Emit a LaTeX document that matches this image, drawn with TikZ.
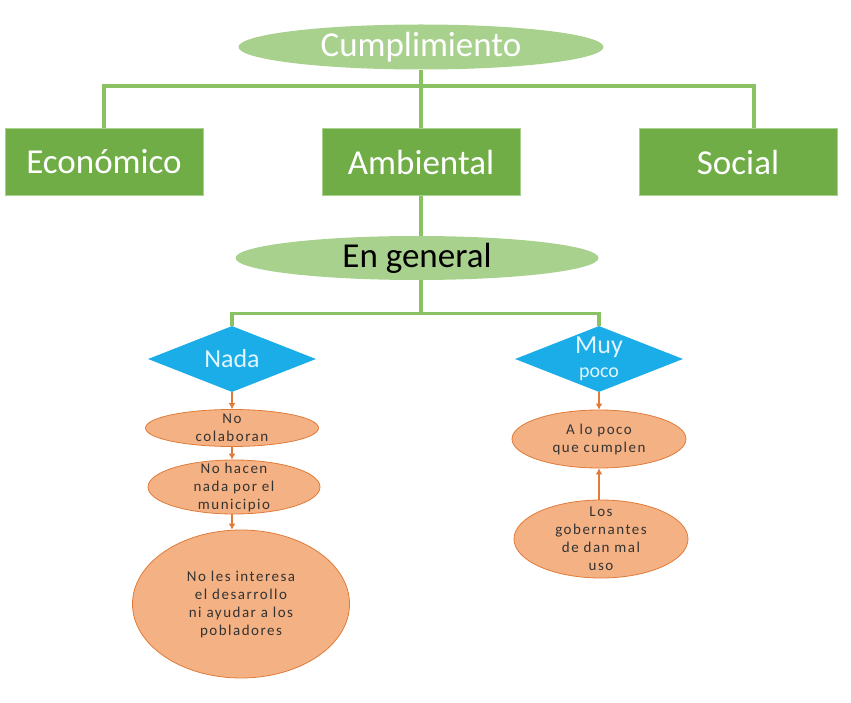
\documentclass[tikz,border=0pt]{standalone}
\usepackage{fontspec}
\setmainfont{Carlito}
\newfontfamily\reasonfont[LetterSpace=10]{Carlito}
\usepackage{xcolor}
\usetikzlibrary{shapes.geometric,arrows.meta}
\definecolor{vgreen}{HTML}{70AD47}
\definecolor{vlgreen}{HTML}{A9D18E}
\definecolor{vline}{HTML}{8AC162}
\definecolor{vblue}{HTML}{1AADE8}
\definecolor{vorange}{HTML}{F4B183}
\definecolor{vdorange}{HTML}{E07B39}
\definecolor{vtext}{HTML}{333333}

\tikzset{
	bigoval/.style = {ellipse, fill = vlgreen, inner sep = 0pt, font = \fontsize{35}{40}\selectfont},
	catbox/.style = {rectangle, fill = vgreen, draw = vlgreen, line width = 1pt, minimum width = 198pt, minimum height = 67pt, text = white, font = \fontsize{35}{40}\selectfont},
	choice/.style = {diamond, fill = vblue, aspect = 2.55, inner sep = 0pt, minimum width = 168pt, minimum height = 66pt, text = white!88!vblue, align = center, font = \fontsize{26}{28}\selectfont},
	reason/.style = {ellipse, fill = vorange, draw = vdorange, line width = .8pt, inner sep = 0pt, align = center, text = vtext, font = \reasonfont\fontsize{15}{18}\selectfont},
	tree/.style = {draw = vline, line width = 3.2pt},
	chain/.style = {draw = vdorange, line width = 2.4pt, -{Latex[length = 6pt, width = 7pt]}}
}

\begin{document}
\begin{tikzpicture}[x = 1pt, y = -1pt]
		\useasboundingbox (0,0) rectangle (851,703);
		% top level
		\node[bigoval, minimum width = 365pt, minimum height = 45pt, text = white] (cum) at (421,47) {Cumplimiento};
		\node[catbox] (eco) at (104,162) {Económico};
		\node[catbox] (amb) at (421,162) {Ambiental};
		\node[catbox] (soc) at (738,162) {Social};
		\draw[tree] (cum.south) -- (amb.north);
		\draw[tree] (eco.north) -- ++(0,-42) -| ([xshift = 16pt]soc.north);
		% en general
		\node[bigoval, minimum width = 363pt, minimum height = 44pt, text = black] (gen) at (417,258) {En general};
		\draw[tree] (amb.south) -- (amb.south |- gen.north);
		\node[choice] (nada) at (232,359) {Nada};
		\node[choice] (muy) at (599,359) {Muy\\[-4pt]{\fontsize{20}{22}\selectfont poco}};
		\draw[tree] (amb.south |- gen.south) -- ++(0,33) coordinate (split);
		\draw[tree] (nada.north) |- (split) -| (muy.north);
		% nada
		\node[reason, inner ysep = -10pt, minimum width = 173pt, minimum height = 37pt] (col) at (232,428) {No\\colaboran};
		\node[reason, inner ysep = -8pt, minimum width = 172pt, minimum height = 54pt] (hac) at (234,487) {No hacen\\nada por el\\municipio};
		\node[reason, minimum width = 217pt, minimum height = 148pt] (int) at (241,604) {No les interesa\\el desarrollo\\ni ayudar a los\\pobladores};
		\draw[chain] (nada.south) -- (col.north);
		\draw[chain] (col.south) -- (col.south |- hac.north);
		\draw[chain] (hac.south -| col.south) -- (col.south |- int.north);
		% muy poco
		\node[reason, minimum width = 174pt, minimum height = 58pt] (apoco) at (599,439) {A lo poco\\que cumplen};
		\node[reason, inner ysep = -6pt, minimum width = 174pt, minimum height = 78pt] (gob) at (601,539) {Los\\gobernantes\\de dan mal\\uso};
		\draw[chain] (muy.south) -- (apoco.north);
		\draw[chain] (apoco.south |- gob.north) -- (apoco.south);
	\end{tikzpicture}
\end{document}
